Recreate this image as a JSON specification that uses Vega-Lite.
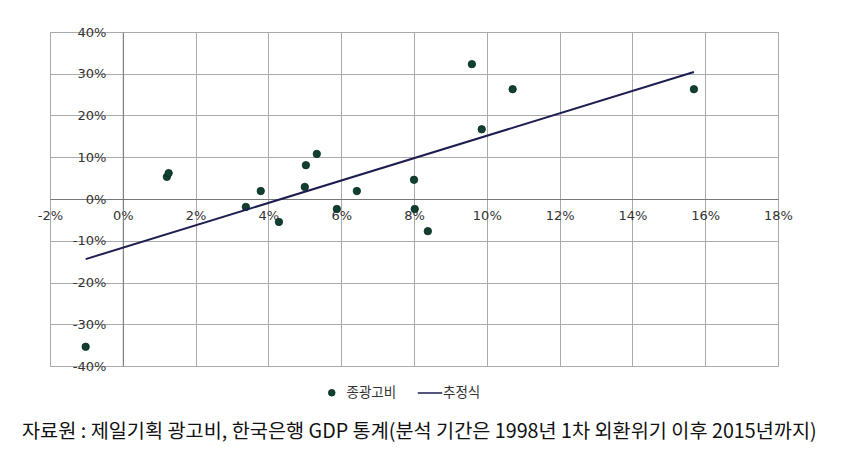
{
  "$schema": "https://vega.github.io/schema/vega-lite/v6.json",
  "width": 728,
  "height": 334,
  "autosize": {"type": "none"},
  "padding": {"left": 50, "top": 32, "right": 79, "bottom": 102},
  "background": "white",
  "config": {"view": {"stroke": "#aaa"}, "font": "DejaVu Sans"},
  "datasets": {
    "points": [
      {"gdp": -0.0102, "ad": -0.354, "series": "종광고비"},
      {"gdp": 0.0121, "ad": 0.053, "series": "종광고비"},
      {"gdp": 0.0126, "ad": 0.062, "series": "종광고비"},
      {"gdp": 0.0338, "ad": -0.019, "series": "종광고비"},
      {"gdp": 0.0379, "ad": 0.019, "series": "종광고비"},
      {"gdp": 0.0429, "ad": -0.055, "series": "종광고비"},
      {"gdp": 0.05, "ad": 0.029, "series": "종광고비"},
      {"gdp": 0.0503, "ad": 0.081, "series": "종광고비"},
      {"gdp": 0.0533, "ad": 0.108, "series": "종광고비"},
      {"gdp": 0.0588, "ad": -0.024, "series": "종광고비"},
      {"gdp": 0.0643, "ad": 0.019, "series": "종광고비"},
      {"gdp": 0.08, "ad": 0.046, "series": "종광고비"},
      {"gdp": 0.0802, "ad": -0.024, "series": "종광고비"},
      {"gdp": 0.0838, "ad": -0.077, "series": "종광고비"},
      {"gdp": 0.0959, "ad": 0.323, "series": "종광고비"},
      {"gdp": 0.0986, "ad": 0.167, "series": "종광고비"},
      {"gdp": 0.1071, "ad": 0.263, "series": "종광고비"},
      {"gdp": 0.1569, "ad": 0.263, "series": "종광고비"}
    ],
    "fit": [
      {"gdp": -0.0102, "ad": -0.144, "series": "추정식"},
      {"gdp": 0.1569, "ad": 0.304, "series": "추정식"}
    ]
  },
  "title": {
    "text": "자료원 : 제일기획 광고비, 한국은행 GDP 통계(분석 기간은 1998년 1차 외환위기 이후 2015년까지)",
    "orient": "bottom",
    "anchor": "start",
    "frame": "group",
    "dx": -28,
    "offset": 22,
    "font": "Noto Sans CJK KR",
    "fontSize": 19.7,
    "fontWeight": "normal",
    "color": "#111"
  },
  "layer": [
    {
      "data": {"name": "points"},
      "mark": {"type": "point", "filled": true, "size": 55, "stroke": "#0a2a20", "strokeWidth": 0.8, "opacity": 1},
      "encoding": {
        "x": {
          "field": "gdp", "type": "quantitative",
          "scale": {"domain": [-0.02, 0.18], "nice": false, "zero": false},
          "axis": {
            "title": null, "format": ".0%",
            "labelExpr": "replace(datum.label, '−', '-')",
            "values": [-0.02, 0, 0.02, 0.04, 0.06, 0.08, 0.1, 0.12, 0.14, 0.16, 0.18],
            "offset": -167, "tickSize": 0, "labelPadding": 10,
            "labelOverlap": false, "labelFlush": false, "labelBound": false,
            "domainColor": "#777", "gridColor": "#aaa", "grid": true,
            "labelFont": "DejaVu Sans", "labelFontSize": 13, "labelColor": "#333"
          }
        },
        "y": {
          "field": "ad", "type": "quantitative",
          "scale": {"domain": [-0.4, 0.4], "nice": false, "zero": false},
          "axis": {
            "title": null, "format": ".0%",
            "labelExpr": "replace(datum.label, '−', '-')",
            "values": [-0.4, -0.3, -0.2, -0.1, 0, 0.1, 0.2, 0.3, 0.4],
            "offset": -72.8, "tickSize": 0, "labelPadding": 17,
            "labelOverlap": false, "labelFlush": false, "labelBound": false,
            "domainColor": "#777", "gridColor": "#aaa", "grid": true,
            "labelFont": "DejaVu Sans", "labelFontSize": 13, "labelColor": "#333"
          }
        },
        "fill": {
          "field": "series", "type": "nominal",
          "scale": {"domain": ["종광고비"], "range": ["#0f4032"]},
          "legend": {
            "title": null, "orient": "none", "legendX": 275, "legendY": 354,
            "symbolType": "circle", "symbolSize": 45, "symbolStrokeColor": "#0a2a20", "symbolStrokeWidth": 0.8,
            "labelOffset": 8,
            "labelFont": "Noto Sans CJK KR", "labelFontSize": 13.5, "labelColor": "#333"
          }
        }
      }
    },
    {
      "data": {"name": "fit"},
      "mark": {"type": "line", "strokeWidth": 2},
      "encoding": {
        "x": {"field": "gdp", "type": "quantitative"},
        "y": {"field": "ad", "type": "quantitative"},
        "stroke": {
          "field": "series", "type": "nominal",
          "scale": {"domain": ["추정식"], "range": ["#1b1f4f"]},
          "legend": {
            "title": null, "orient": "none", "legendX": 367, "legendY": 348,
            "symbolType": "stroke", "symbolSize": 600, "symbolStrokeWidth": 1.5,
            "labelOffset": 0,
            "labelFont": "Noto Sans CJK KR", "labelFontSize": 13.5, "labelColor": "#333"
          }
        }
      }
    }
  ]
}
